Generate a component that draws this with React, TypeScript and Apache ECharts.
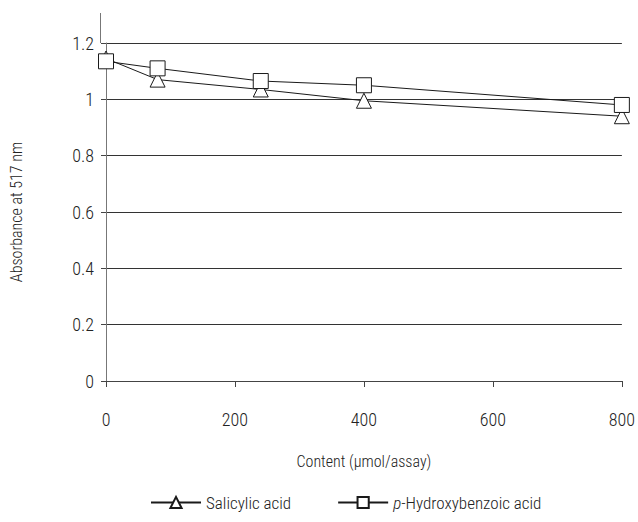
import React, { useEffect, useRef } from "react";
import * as echarts from "echarts";

const xValues = [0, 80, 240, 400, 800];
const salicylic = [1.145, 1.07, 1.035, 0.995, 0.94];
const hydroxybenzoic = [1.135, 1.11, 1.065, 1.05, 0.98];
const xTicks = [0, 200, 400, 600, 800];
const yTicks = [0, 0.2, 0.4, 0.6, 0.8, 1, 1.2];

const FONT = '"Roboto Condensed", "Liberation Sans Narrow", sans-serif';
const W = 300;

export default function App() {
  const ref = useRef<HTMLDivElement>(null);
  useEffect(() => {
    if (!ref.current) return;
    const chart = echarts.init(ref.current, undefined, { renderer: "svg" });
    const mk = (name: string, ys: number[], symbol: string, size: number) => ({
      name,
      type: "line",
      data: xValues.map((x, i) => [x, ys[i]]),
      symbol,
      symbolSize: size,
      showAllSymbol: true,
      lineStyle: { color: "#1a1a1a", width: 1 },
      itemStyle: { color: "#ffffff", borderColor: "#1a1a1a", borderWidth: 1 },
      emphasis: { disabled: true },
    });
    chart.setOption({
      animation: false,
      textStyle: { fontFamily: FONT, fontWeight: W },
      grid: { left: 100, right: 8, top: 43, bottom: 141, containLabel: false },
      xAxis: {
        type: "value",
        min: 0,
        max: 800,
        interval: 200,
        name: "Content (μmol/assay)",
        nameLocation: "middle",
        nameGap: 72,
        nameTextStyle: { fontFamily: FONT, fontWeight: W, fontSize: 16, color: "#222" },
        axisLine: { lineStyle: { color: "#444", width: 1 } },
        axisTick: { show: true, inside: false, length: 6, lineStyle: { color: "#444" } },
        axisLabel: {
          margin: 29,
          fontFamily: FONT,
          fontWeight: W,
          fontSize: 18,
          color: "#222",
          formatter: (v: number) => (xTicks.includes(v) ? String(v) : ""),
        },
        splitLine: { show: false },
      },
      yAxis: {
        type: "value",
        min: 0,
        max: 1.2,
        interval: 0.2,
        name: "Absorbance at 517 nm",
        nameLocation: "middle",
        nameGap: 82,
        nameTextStyle: { fontFamily: FONT, fontWeight: W, fontSize: 16, color: "#222" },
        axisLine: { show: true, lineStyle: { color: "#777", width: 1 } },
        axisTick: { show: true, inside: false, length: 5, lineStyle: { color: "#444" } },
        axisLabel: {
          margin: 12,
          fontFamily: FONT,
          fontWeight: W,
          fontSize: 18,
          color: "#222",
          formatter: (v: number) => {
            const t = yTicks.find((y) => Math.abs(y - v) < 1e-6);
            return t === undefined ? "" : String(Math.round(t * 10) / 10);
          },
        },
        splitLine: { show: true, lineStyle: { color: "#333", width: 1 } },
      },
      legend: {
        bottom: 6,
        left: 145,
        itemWidth: 50,
        itemHeight: 14,
        itemGap: 46,
        selectedMode: false,
        textStyle: {
          fontFamily: FONT,
          fontWeight: W,
          fontSize: 17,
          color: "#222",
          rich: {
            i: { fontFamily: FONT, fontWeight: W, fontSize: 17, fontStyle: "italic", color: "#222" },
          },
        },
        formatter: (n: string) => (n.startsWith("p-") ? "{i|p}-" + n.slice(2) : n),
        data: ["Salicylic acid", "p-Hydroxybenzoic acid"],
      },
      graphic: [
        {
          type: "line",
          shape: { x1: 100.5, y1: 13, x2: 100.5, y2: 43 },
          style: { stroke: "#777", lineWidth: 1 },
          silent: true,
        },
      ],
      series: [
        mk("Salicylic acid", salicylic, "triangle", 15),
        mk("p-Hydroxybenzoic acid", hydroxybenzoic, "rect", 15),
      ],
    });
    return () => chart.dispose();
  }, []);
  return <div ref={ref} style={{ width: 638, height: 522, position: "absolute", left: 0, top: 0 }} />;
}
